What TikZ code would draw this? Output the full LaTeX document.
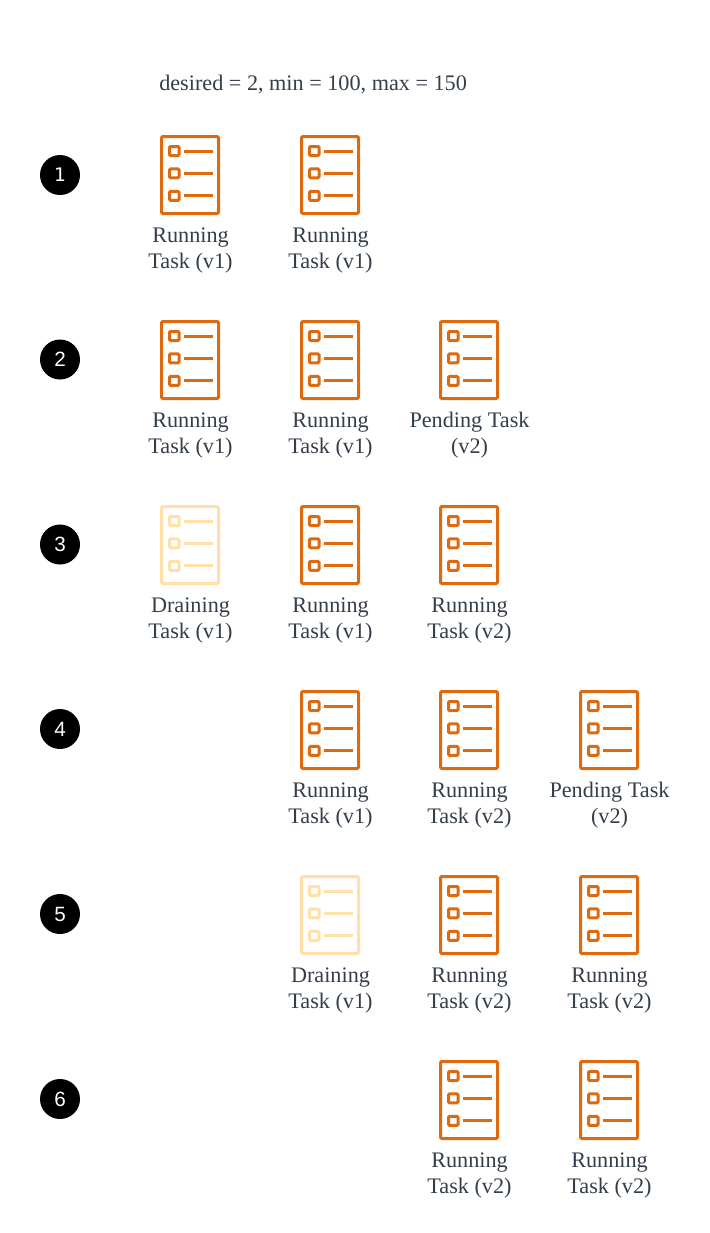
\documentclass[tikz,border=0pt]{standalone}
\usepackage{fontspec}
\setmainfont{Liberation Serif}
\newfontfamily\numfont{Liberation Sans}
\newfontfamily\numonefont{DejaVu Sans}
\definecolor{taskorange}{HTML}{DE6A10}
\definecolor{taskpale}{HTML}{FFE0A8}
\definecolor{labelgrey}{HTML}{343E4A}
\tikzset{
  x=0.75pt,y=-0.75pt,
  iconbody/.style={line width=2.25pt,rounded corners=1pt},
  iconbullet/.style={line width=2.25pt,rounded corners=0.8pt},
  iconline/.style={line width=2.25pt},
  tasklabel/.style={inner sep=0pt,align=center,text=labelgrey,anchor=north,
    font=\fontsize{16.65}{19.5}\selectfont},
  stepbadge/.style={circle,fill=black,text=white,minimum size=30pt,inner sep=0pt,
    font=\numfont\fontsize{15.5}{15.5}\selectfont},
  headtext/.style={inner sep=0pt,anchor=base west,text=labelgrey,
    font=\fontsize{16.65}{19.5}\selectfont}
}
% #1 name, #2 left, #3 top, #4 colour, #5 label
\newcommand{\taskicon}[5]{%
  \begin{scope}[shift={(#2,#3)},draw=#4]
    \draw[iconbody] (1.5,1.5) rectangle (58.5,78.5);
    \draw[iconbullet] (9.5,11.5) rectangle (19,20.5);
    \draw[iconbullet] (9.5,33.9) rectangle (19,42.9);
    \draw[iconbullet] (9.5,56.3) rectangle (19,65.3);
    \draw[iconline] (24,16) -- (53,16);
    \draw[iconline] (24,38.4) -- (53,38.4);
    \draw[iconline] (24,60.8) -- (53,60.8);
    \node[tasklabel] (#1) at (30.5,92.3) {#5};
  \end{scope}}
\begin{document}
\begin{tikzpicture}
\useasboundingbox (0,0) rectangle (710,1233);
\node[headtext] (head) at (159,90) {desired = 2, min = 100, max = 150};
\node[stepbadge,font=\numonefont\fontsize{14}{14}\selectfont] (s1) at (60,175) {1};
\node[stepbadge] (s2) at (60,359.5) {2};
\node[stepbadge] (s3) at (60,544.5) {3};
\node[stepbadge] (s4) at (60,729) {4};
\node[stepbadge] (s5) at (60,914) {5};
\node[stepbadge] (s6) at (60,1099) {6};
\taskicon{a1}{160}{135}{taskorange}{Running\\Task (v1)}
\taskicon{a2}{300}{135}{taskorange}{Running\\Task (v1)}
\taskicon{b1}{160}{320}{taskorange}{Running\\Task (v1)}
\taskicon{b2}{300}{320}{taskorange}{Running\\Task (v1)}
\taskicon{b3}{439}{320}{taskorange}{Pending Task\\(v2)}
\taskicon{c1}{160}{505}{taskpale}{Draining\\Task (v1)}
\taskicon{c2}{300}{505}{taskorange}{Running\\Task (v1)}
\taskicon{c3}{439}{505}{taskorange}{Running\\Task (v2)}
\taskicon{d2}{300}{690}{taskorange}{Running\\Task (v1)}
\taskicon{d3}{439}{690}{taskorange}{Running\\Task (v2)}
\taskicon{d4}{579}{690}{taskorange}{Pending Task\\(v2)}
\taskicon{e2}{300}{875}{taskpale}{Draining\\Task (v1)}
\taskicon{e3}{439}{875}{taskorange}{Running\\Task (v2)}
\taskicon{e4}{579}{875}{taskorange}{Running\\Task (v2)}
\taskicon{f3}{439}{1060}{taskorange}{Running\\Task (v2)}
\taskicon{f4}{579}{1060}{taskorange}{Running\\Task (v2)}
\end{tikzpicture}
\end{document}
